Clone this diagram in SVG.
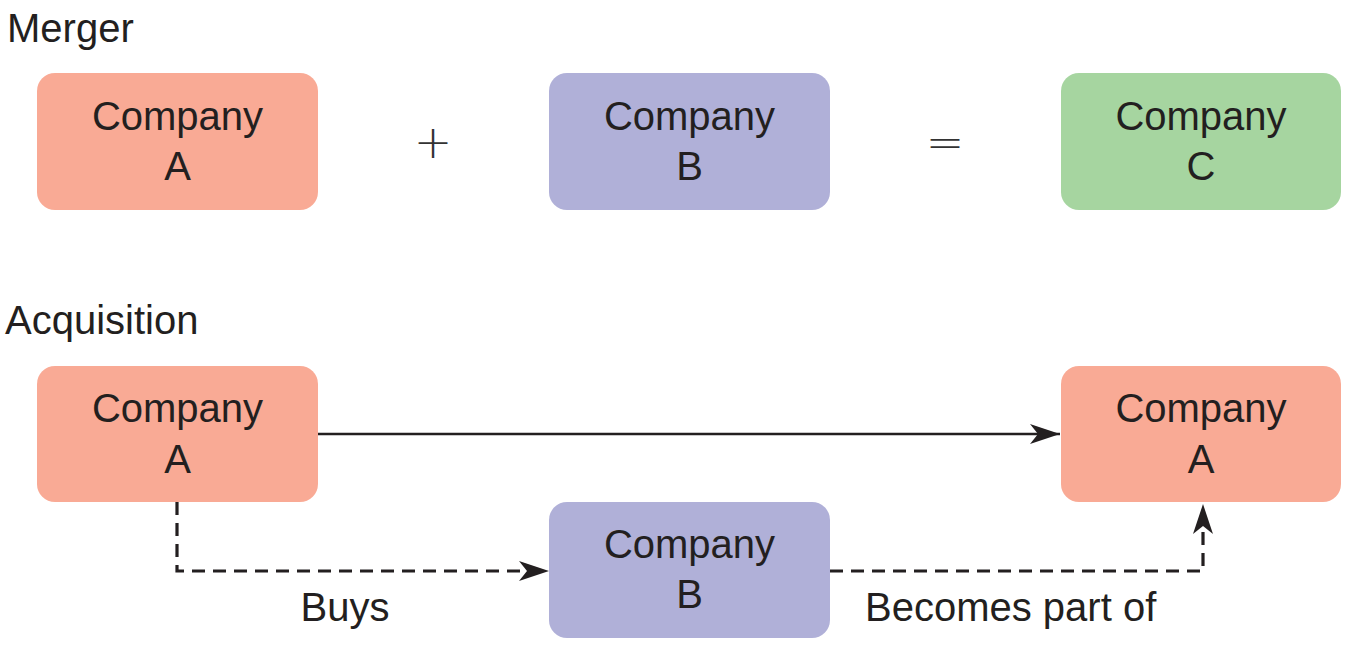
<svg xmlns="http://www.w3.org/2000/svg" width="1350" height="648" viewBox="0 0 1350 648">
<defs>
<style>
.t{font-family:"Liberation Sans",Arial,sans-serif;font-size:40px;fill:#231f20}
.c{text-anchor:middle}
.op{font-family:"DejaVu Sans",sans-serif;font-size:46px;font-weight:200;fill:#333;text-anchor:middle}
.a{fill:#f9aa95}
.b{fill:#b0b0d8}
.g{fill:#a6d5a0}
.ln{fill:none;stroke:#231f20;stroke-width:2.5}
.ds{fill:none;stroke:#231f20;stroke-width:3.2;stroke-dasharray:13 8}
</style>
<marker id="ah" viewBox="0 0 30 20" refX="30" refY="10" markerWidth="30" markerHeight="20" markerUnits="userSpaceOnUse" orient="auto">
<path d="M0,0 L30,10 L0,20 L8,10 Z" fill="#231f20"/>
</marker>
</defs>
<rect width="1350" height="648" fill="#fff"/>
<text class="t" x="7" y="42">Merger</text>
<text class="t" x="5" y="334">Acquisition</text>
<g id="m-a"><rect class="a" x="37" y="73" width="281" height="137" rx="18"/><text class="t c" x="177.5" y="130">Company</text><text class="t c" x="177.5" y="180">A</text></g>
<text class="op" x="433" y="158">+</text>
<g id="m-b"><rect class="b" x="549" y="73" width="281" height="137" rx="18"/><text class="t c" x="689.5" y="130">Company</text><text class="t c" x="689.5" y="180">B</text></g>
<text class="op" x="945" y="158">=</text>
<g id="m-c"><rect class="g" x="1061" y="73" width="280" height="137" rx="18"/><text class="t c" x="1201" y="130">Company</text><text class="t c" x="1201" y="180">C</text></g>
<g id="q-a"><rect class="a" x="37" y="366" width="281" height="136" rx="18"/><text class="t c" x="177.5" y="422">Company</text><text class="t c" x="177.5" y="473">A</text></g>
<g id="q-a2"><rect class="a" x="1061" y="366" width="280" height="136" rx="18"/><text class="t c" x="1201" y="422">Company</text><text class="t c" x="1201" y="473">A</text></g>
<g id="q-b"><rect class="b" x="549" y="502" width="281" height="136" rx="18"/><text class="t c" x="689.5" y="558">Company</text><text class="t c" x="689.5" y="608">B</text></g>
<g id="connectors">
<path class="ln" d="M318,434 L1060,434" marker-end="url(#ah)"/>
<path class="ds" d="M177,502 L177,571 L549,571" marker-end="url(#ah)"/>
<path class="ds" d="M830,571 L1203,571 L1203,504" marker-end="url(#ah)"/>
<text class="t c" x="345" y="621">Buys</text>
<text class="t" x="865" y="621">Becomes part of</text>
</g>
</svg>
